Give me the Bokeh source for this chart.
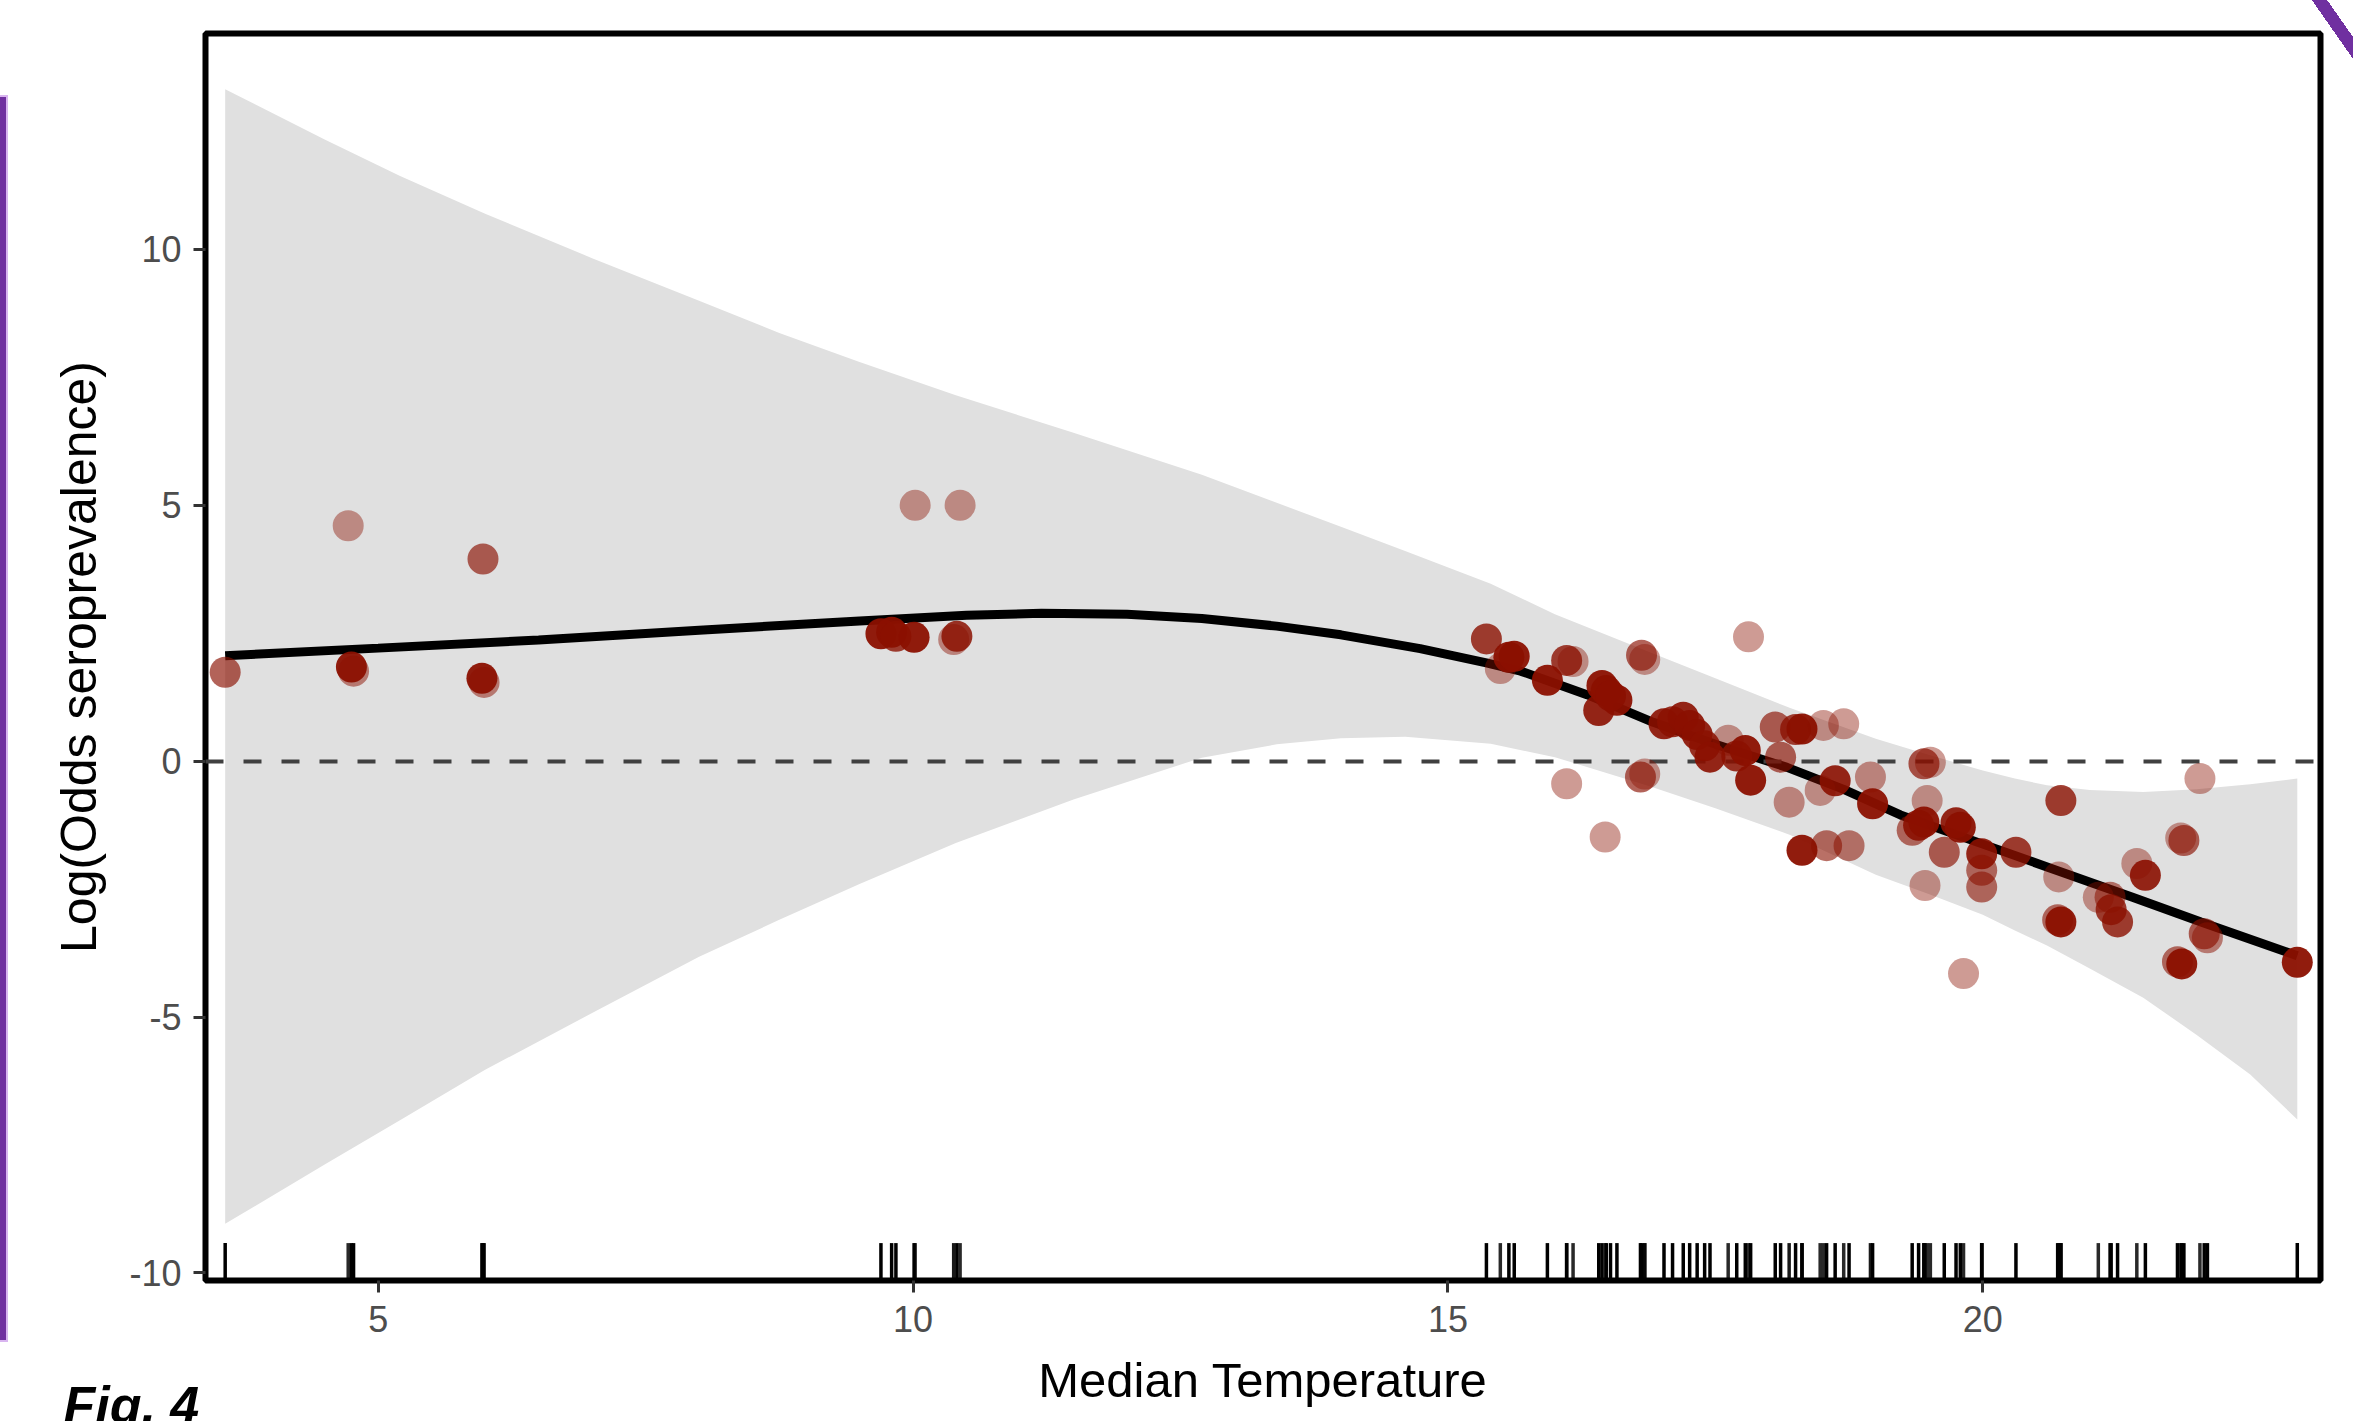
from bokeh.plotting import figure
from bokeh.models import Range1d, FixedTicker, ColumnDataSource, Title
from bokeh.embed import file_html
from bokeh.resources import INLINE

# ---------------- data ----------------
x_title = "Median Temperature"
y_title = "Log(Odds seroprevalence)"
fig_label = "Fig. 4"
x_ticks = [5, 10, 15, 20]
y_ticks = [-10, -5, 0, 5, 10]
y_tick_text = {-10: "-10", -5: "-5", 0: "0", 5: "5", 10: "10"}
x_limits = (3.386, 23.157)
y_limits = (-10.147, 14.22)

point_temp = [3.57, 4.72, 4.75, 4.77, 5.98, 5.97, 5.99, 9.70, 9.80, 9.84, 10.01, 10.02,
              10.38, 10.41, 10.44,
              15.36, 15.49, 15.57, 15.62, 15.93, 16.11, 16.17, 16.44, 16.48, 16.58, 16.41,
              16.52, 16.81, 16.84, 16.11, 16.47, 16.80, 16.84, 17.02, 17.10, 17.20, 17.26,
              17.33, 17.40, 17.45, 17.62, 17.70, 17.78, 17.83, 17.81, 18.06, 18.11, 18.25,
              18.31, 18.51, 18.70, 18.19, 18.31, 18.54, 18.75, 18.62, 18.48, 18.95, 18.97,
              19.45, 19.51, 19.48, 19.34, 19.40, 19.45, 19.75, 19.79, 19.64, 19.46, 19.99,
              19.99, 19.99, 20.31, 19.82, 20.73, 20.71, 20.70, 20.73, 21.08, 21.19, 21.20,
              21.26, 21.44, 21.52, 21.85, 21.88, 22.03, 22.07, 22.10, 21.82, 21.86, 22.94]
point_logodds = [1.74, 4.60, 1.84, 1.76, 3.95, 1.62, 1.54, 2.49, 2.52, 2.44, 2.42, 5.00,
                 2.38, 2.44, 5.00,
                 2.39, 1.81, 2.03, 2.05, 1.58, 1.97, 1.95, 1.48, 1.38, 1.19, 0.99,
                 1.28, 2.07, 1.99, -0.44, -1.48, -0.31, -0.25, 0.73, 0.77, 0.86, 0.70,
                 0.52, 0.30, 0.08, 0.41, 0.10, 0.21, -0.37, 2.43, 0.67, 0.08, 0.62,
                 0.63, 0.70, 0.73, -0.80, -1.74, -1.65, -1.65, -0.38, -0.57, -0.31, -0.83,
                 -0.05, -0.02, -0.77, -1.35, -1.25, -1.19, -1.20, -1.29, -1.78, -2.43, -1.81,
                 -2.13, -2.46, -1.78, -4.15, -0.77, -2.26, -3.10, -3.14, -2.66, -2.66, -2.90,
                 -3.14, -2.00, -2.23, -1.50, -1.55, -0.34, -3.37, -3.45, -3.92, -3.96, -3.93]
point_alpha = [0.65, 0.42, 0.95, 0.5, 0.65, 0.95, 0.5, 0.95, 0.95, 0.8, 0.95, 0.42,
               0.45, 0.85, 0.42,
               0.8, 0.42, 0.95, 0.95, 0.95, 0.8, 0.42, 0.95, 0.95, 0.95, 0.9,
               0.9, 0.65, 0.42, 0.42, 0.42, 0.65, 0.42, 0.9, 0.85, 0.9, 0.9,
               0.9, 0.85, 0.9, 0.42, 0.85, 0.95, 0.95, 0.42, 0.65, 0.65, 0.8,
               0.95, 0.42, 0.42, 0.45, 0.95, 0.6, 0.55, 0.9, 0.42, 0.45, 0.95,
               0.7, 0.42, 0.42, 0.6, 0.9, 0.95, 0.9, 0.95, 0.65, 0.42, 0.9,
               0.6, 0.6, 0.8, 0.42, 0.8, 0.42, 0.6, 0.95, 0.42, 0.55, 0.8,
               0.8, 0.42, 0.9, 0.42, 0.65, 0.42, 0.65, 0.5, 0.6, 0.95, 0.95]

fit_temp = [3.57, 5.0, 6.5, 8.0, 9.5, 10.5, 11.2, 12.0, 12.7, 13.4, 14.0, 14.74, 15.36,
            15.68, 16.3, 16.92, 17.5, 18.17, 18.7, 19.23, 20.0, 20.7, 21.4, 22.04, 22.94]
fit_logodds = [2.06, 2.21, 2.37, 2.56, 2.74, 2.85, 2.89, 2.87, 2.79, 2.64, 2.47, 2.20, 1.92,
               1.76, 1.30, 0.76, 0.33, -0.12, -0.55, -1.05, -1.62, -2.14, -2.66, -3.14, -3.80]

band_temp = [3.57, 4.5, 5.2, 6.0, 7.0, 8.0, 8.75, 9.5, 10.4, 11.5, 12.7, 13.4, 14.0, 14.6,
             15.4, 16.0, 16.9, 17.5, 18.2, 19.0, 19.5, 20.0, 20.3, 20.6, 21.0, 21.5, 22.0,
             22.5, 22.94]
band_upper = [13.13, 12.15, 11.44, 10.7, 9.83, 9.0, 8.37, 7.8, 7.15, 6.42, 5.60, 5.05, 4.58,
              4.11, 3.47, 2.87, 2.12, 1.62, 1.04, 0.44, 0.12, -0.18, -0.34, -0.47, -0.56,
              -0.60, -0.55, -0.45, -0.34]
band_lower = [-9.04, -7.88, -7.02, -6.03, -4.92, -3.82, -3.1, -2.4, -1.6, -0.75, 0.07, 0.33,
              0.45, 0.48, 0.34, 0.08, -0.50, -0.92, -1.44, -2.22, -2.6, -3.0, -3.31, -3.6,
              -4.05, -4.62, -5.35, -6.12, -7.0]

# ---------------- figure ----------------
W, H = 2353, 1421
FONT = "Liberation Sans"
PURPLE = "#7030A0"

# purely decorative slide marks (purple bar on the left, purple stroke top-right)
slide_bg = (
    f"linear-gradient(55deg, transparent 58px, {PURPLE} 58px, {PURPLE} 70.5px, transparent 70.5px)"
    " 2290px 0px / 63px 70px no-repeat, "
    f"linear-gradient({PURPLE}, {PURPLE}) 0px 97px / 6px 1243px no-repeat, "
    "linear-gradient(#D9B5F0, #D9B5F0) 0px 95px / 8px 1247px no-repeat, "
    "#ffffff"
)

p = figure(width=W, height=H,
           x_range=Range1d(*x_limits), y_range=Range1d(*y_limits),
           output_backend="svg", toolbar_location=None,
           min_border_left=205, min_border_right=33,
           min_border_top=33, min_border_bottom=141,
           styles={"background": slide_bg})
p.xgrid.visible = False
p.ygrid.visible = False
p.background_fill_color = "white"
p.border_fill_color = None
p.outline_line_color = "black"
p.outline_line_width = 6

# confidence band, fit, reference line
p.varea(x=band_temp, y1=band_lower, y2=band_upper, fill_color="#E0E0E0")
p.line(fit_temp, fit_logodds, line_color="black", line_width=9)
p.hspan(y=[0], line_color="#404040", line_width=4, line_dash="18 20")

# points and rug
rug_alpha = [min(1.0, 2.0 * a) for a in point_alpha]
src = ColumnDataSource(dict(x=point_temp, y=point_logodds, a=point_alpha, ra=rug_alpha))
p.scatter("x", "y", source=src, size=31, fill_color="#8B1000", fill_alpha="a",
          line_color=None)
rug_len = 0.03 * (y_limits[1] - y_limits[0])
p.segment(x0="x", y0=y_limits[0], x1="x", y1=y_limits[0] + rug_len, source=src,
          line_color="black", line_alpha="ra", line_width=3.5)

# axes
p.xaxis.ticker = FixedTicker(ticks=x_ticks)
p.yaxis.ticker = FixedTicker(ticks=y_ticks)
p.yaxis.major_label_overrides = y_tick_text
p.axis.axis_line_color = None
p.axis.major_tick_line_color = "#333333"
p.axis.major_tick_line_width = 3
p.axis.major_tick_out = 12
p.axis.major_tick_in = 0
p.axis.minor_tick_line_color = None
p.axis.major_label_text_font = FONT
p.axis.major_label_text_font_size = "36px"
p.axis.major_label_text_color = "#4D4D4D"
p.xaxis.major_label_standoff = 13
p.yaxis.major_label_standoff = 12
p.xaxis.axis_label = x_title
p.yaxis.axis_label = y_title
p.axis.axis_label_text_font = FONT
p.xaxis.axis_label_text_font_size = "49px"
p.yaxis.axis_label_text_font_size = "50px"
p.axis.axis_label_text_font_style = "normal"
p.axis.axis_label_text_color = "black"
p.xaxis.axis_label_standoff = 18
p.yaxis.axis_label_standoff = 19

# figure caption below the axis title, cut by the page edge as in the slide
p.add_layout(Title(text=fig_label, align="left", vertical_align="top",
                   offset=-142, standoff=-68,
                   text_font=FONT, text_font_size="52px",
                   text_font_style="bold italic", text_color="black"), "below")

open("out.html", "w").write(file_html(p, INLINE))
